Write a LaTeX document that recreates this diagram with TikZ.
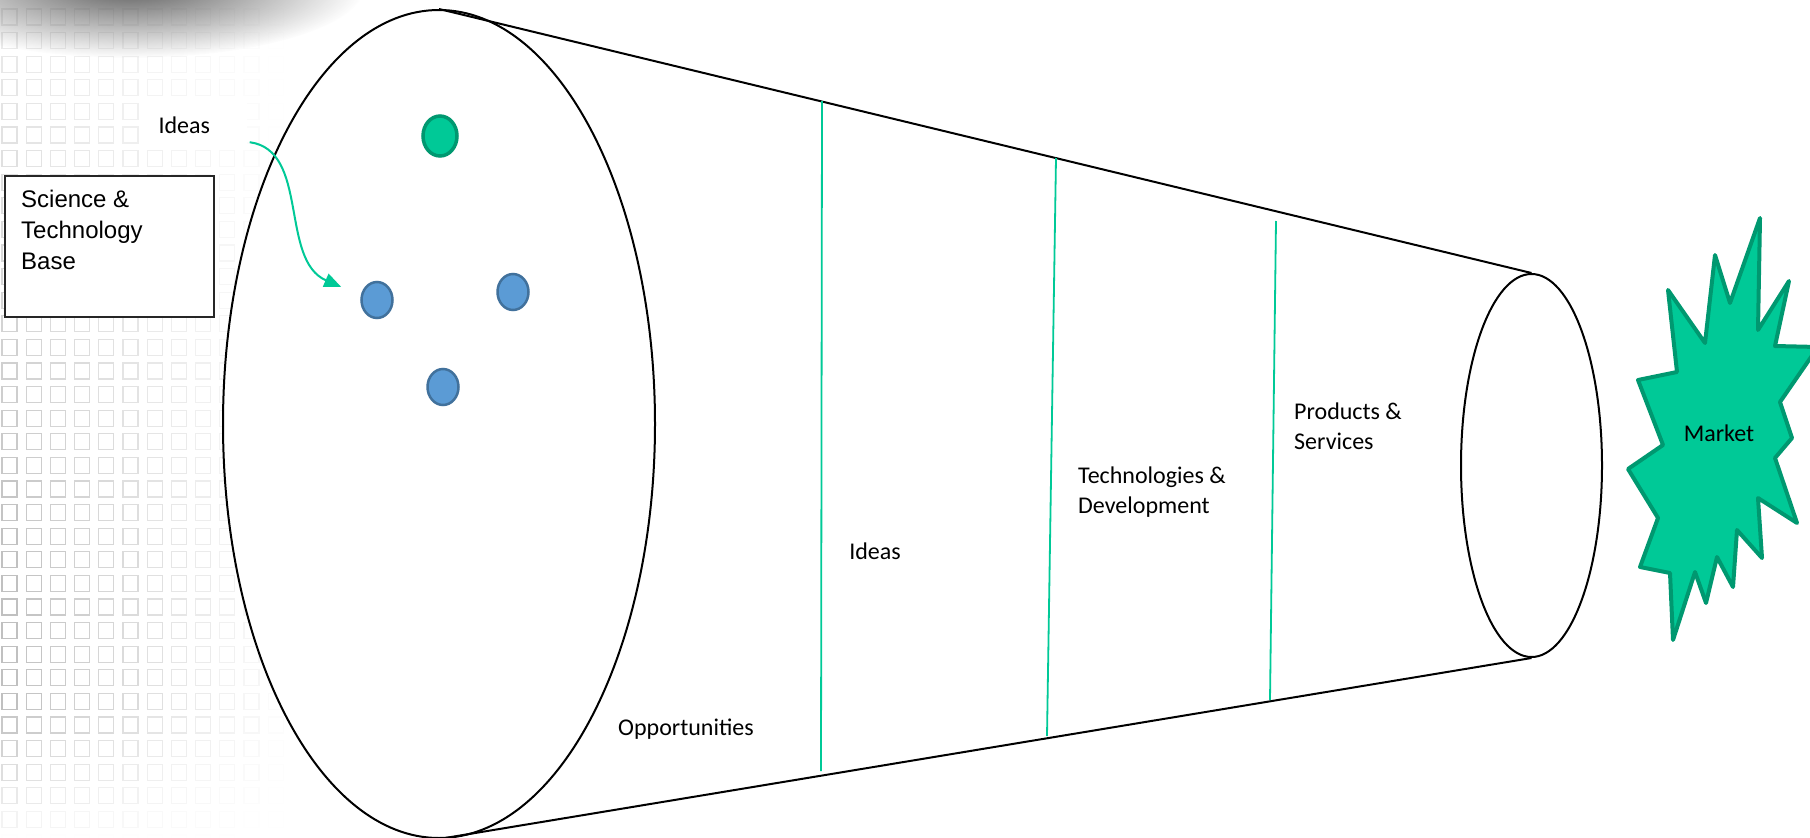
\documentclass[tikz,border=0pt]{standalone}
\usepackage{fontspec}
\setmainfont{Carlito}
\newfontfamily\arialfont{Liberation Sans}
\usetikzlibrary{shapes.geometric, arrows.meta, fadings}
\definecolor{IdeaGreen}{RGB}{0, 201, 151}
\definecolor{IdeaGreenDark}{RGB}{0, 152, 112}
\definecolor{IdeaBlue}{RGB}{91, 155, 213}
\definecolor{IdeaBlueDark}{RGB}{65, 113, 156}
\tikzfading[name=softspot, inner color=transparent!10, outer color=transparent!100]

\begin{document}
\begin{tikzpicture}[x=1pt, y=-1pt,
    coneend/.style={ellipse, draw=black, fill=white, line width=2pt, inner sep=0pt},
    ideadot/.style={ellipse, fill=IdeaBlue, draw=IdeaBlueDark, line width=2.5pt,
                    minimum width=31pt, minimum height=36pt, inner sep=0pt},
    stageline/.style={IdeaGreen, line width=1.8pt},
    stagetext/.style={font=\fontsize{24}{30}\selectfont, align=left, inner sep=0pt}]
    \useasboundingbox (0,0) rectangle (1810,838);

    % Faded square pattern on the left
    \foreach \i in {0,...,11} {
        \foreach \j in {0,...,35} {
            \pgfmathsetmacro{\gx}{2+24.2*\i}
            \pgfmathsetmacro{\gy}{9+23.6*\j}
            \pgfmathsetmacro{\gop}{max(0,0.5*(1-\gx/285))*min(1,0.3+\gy/800)*min(1,max(0,(838-\gy)/140))}
            \draw[gray, line width=1.3pt, opacity=\gop] (\gx,\gy) rectangle ++(15,16);
        }
    }
    % Shadow at the top
    \fill[black!70, path fading=softspot]
        (130,-14) ellipse [x radius=235pt, y radius=72pt];

    % Labels outside the cone
    \node[fill=white, text width=70pt, inner xsep=18pt, minimum height=46pt,
          align=left, font=\fontsize{24}{30}\selectfont] (ideaslbl) at (193.5,125) {Ideas};
    \node[draw=black!85, fill=white, line width=1.3pt, minimum width=209pt,
          minimum height=141pt, inner sep=0pt] (stbox) at (109.5,246.5) {};
    \node[anchor=north west, inner sep=0pt, align=left,
          font=\arialfont\fontsize{24}{31}\selectfont] (sttext) at (21,190)
          {Science \&\\Technology\\Base};

    % Cone
    \node[coneend, minimum width=432pt, minimum height=828pt] (bigend) at (439,424) {};
    \node[coneend, minimum width=141pt, minimum height=383pt] (smallend) at (1531.5,465.5) {};
    \draw[line width=2pt] (bigend.north) -- (smallend.north);
    \draw[line width=2pt] (bigend.south) -- (smallend.south);

    % Stage dividers
    \foreach \ta/\tb in {{(822,101)}/{(821,771)}, {(1056,158)}/{(1047,736)}, {(1276,221)}/{(1270,700)}} {
        \draw[stageline] \ta -- \tb;
    }

    % Ideas inside the big end
    \node[ellipse, fill=IdeaGreen, draw=IdeaGreenDark, line width=3.5pt,
          minimum width=34pt, minimum height=40pt, inner sep=0pt] (newidea) at (440,136) {};
    \foreach \n/\p in {ideaA/{(377,300)}, ideaB/{(513,292)}, ideaC/{(443,387)}} {
        \node[ideadot] (\n) at \p {};
    }
    \coordinate (ideatip) at ([xshift=-19pt, yshift=13pt]ideaA.west);
    \draw[IdeaGreen, line width=2pt, -{Triangle[length=17pt, width=14pt]}]
        ([xshift=3pt, yshift=6pt]ideaslbl.south east) .. controls +(60,8) and +(-62,-27) .. (ideatip);

    % Stage labels
    \node[stagetext, anchor=base] (opplbl) at (686,735) {Opportunities};
    \node[stagetext, anchor=base] (stagelbl) at (875,559) {Ideas};
    \node[stagetext, anchor=north west] (techlbl) at (1078,467) {Technologies \&\\Development};
    \node[stagetext, anchor=north west] (prodlbl) at (1294,403) {Products \&\\Services};

    % Market burst
    \draw[fill=IdeaGreen, draw=IdeaGreenDark, line width=4pt, line join=round]
        (1760,218) -- (1758,330) -- (1789,281) -- (1775,346) -- (1818,347) -- (1780,402)
        -- (1792,438) -- (1775,458) -- (1797,523) -- (1758,498) -- (1762,558) -- (1737,530)
        -- (1733,587) -- (1717,557) -- (1706,603) -- (1695,572) -- (1673,640) -- (1670,573)
        -- (1640,567) -- (1658,518) -- (1628,469) -- (1663,445) -- (1638,380) -- (1677,372)
        -- (1668,290) -- (1705,343) -- (1715,255) -- (1730,303) -- cycle;
    \node[stagetext, anchor=base] (marketlbl) at (1719,441) {Market};
\end{tikzpicture}
\end{document}
